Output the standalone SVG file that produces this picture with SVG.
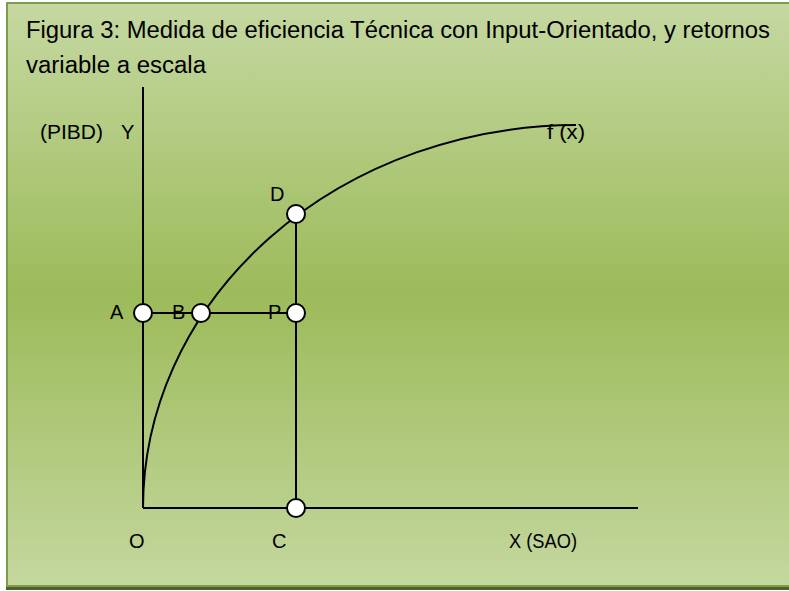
<svg xmlns="http://www.w3.org/2000/svg" width="789" height="591" viewBox="0 0 789 591">
<defs>
<linearGradient id="bg" x1="0" y1="0" x2="0" y2="1">
<stop offset="0" stop-color="#c5d8a1"/>
<stop offset="0.5" stop-color="#9cbb5a"/>
<stop offset="1" stop-color="#c4d79e"/>
</linearGradient>
</defs>
<style>
.ln{stroke:#000;stroke-width:2;fill:none}
.pt{fill:#fff;stroke:#000;stroke-width:2}
.lb{font-family:"Liberation Sans",Arial,sans-serif;font-size:20px;fill:#000}
.tt{font-family:"Liberation Sans",Arial,sans-serif;font-size:23px;fill:#000}
</style>
<rect x="0" y="0" width="789" height="591" fill="#ffffff"/>
<rect x="6" y="2" width="790" height="588" fill="#4f6228"/>
<rect x="6" y="2" width="790" height="585" fill="#7f9a48"/>
<rect x="8" y="4" width="790" height="581" fill="url(#bg)"/>
<g id="title">
<text class="tt" x="26" y="38" textLength="744" lengthAdjust="spacingAndGlyphs">Figura 3: Medida de eficiencia Técnica con Input-Orientado, y retornos</text>
<text class="tt" x="26" y="73" textLength="180" lengthAdjust="spacingAndGlyphs">variable a escala</text>
</g>
<g id="connectors">
<line class="ln" x1="143" y1="87" x2="143" y2="508"/>
<line class="ln" x1="143" y1="508" x2="638" y2="508"/>
<line class="ln" x1="143" y1="313" x2="296" y2="313"/>
<line class="ln" x1="296" y1="214" x2="296" y2="508"/>
<path id="curve" class="ln" d="M143,508 A435,383 0 0 1 576,125"/>
</g>
<g id="axis-labels">
<text class="lb" x="40" y="139" textLength="63" lengthAdjust="spacingAndGlyphs">(PIBD)</text>
<text class="lb" x="121" y="139">Y</text>
<text class="lb" x="547" y="139" textLength="38" lengthAdjust="spacingAndGlyphs">f (x)</text>
<text class="lb" x="129" y="548">O</text>
<text class="lb" x="272" y="548">C</text>
<text class="lb" x="509" y="548" textLength="68" lengthAdjust="spacingAndGlyphs">X (SAO)</text>
</g>
<g id="node-A"><circle class="pt" cx="143" cy="313" r="9"/><text class="lb" x="110" y="319">A</text></g>
<g id="node-B"><circle class="pt" cx="201" cy="313" r="9"/><text class="lb" x="172" y="319">B</text></g>
<g id="node-P"><circle class="pt" cx="296" cy="313" r="9"/><text class="lb" x="268" y="319">P</text></g>
<g id="node-D"><circle class="pt" cx="296" cy="214" r="9"/><text class="lb" x="270" y="201">D</text></g>
<g id="node-C"><circle class="pt" cx="296" cy="508" r="9"/></g>
</svg>
